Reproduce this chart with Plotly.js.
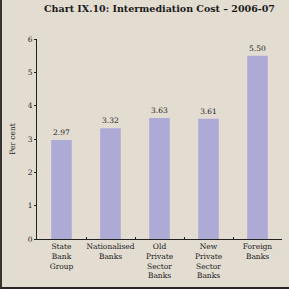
<!DOCTYPE html>
<html>
<head>
<meta charset="utf-8">
<script src="https://cdn.plot.ly/plotly-3.0.1.min.js"></script>
<style>
html,body{margin:0;padding:0;background:#e3dcd1;}
#wrap{width:287px;height:287px;border-left:2px solid #3a3430;border-bottom:2px solid #2a2522;background:#e3dcd1;}
#chart{width:287px;height:287px;}
</style>
</head>
<body>
<div id="wrap"><div id="chart"></div></div>
<script>
const categories = ["State<br>Bank<br>Group", "Nationalised<br>Banks", "Old<br>Private<br>Sector<br>Banks", "New<br>Private<br>Sector<br>Banks", "Foreign<br>Banks"];
const values = [2.97, 3.32, 3.63, 3.61, 5.50];
const yTicks = [0, 1, 2, 3, 4, 5, 6];

const serif = "DejaVu Serif, Liberation Serif, serif";
const trace = {
  type: "bar",
  x: categories,
  y: values,
  marker: {color: "#aeaad6"},
  text: values.map(v => v.toFixed(2)),
  textposition: "outside",
  textfont: {family: serif, size: 7.5, color: "#1a1a1a"},
  cliponaxis: false,
  hoverinfo: "none"
};
const layout = {
  width: 287, height: 287,
  margin: {l: 35, r: 7, t: 39, b: 48},
  paper_bgcolor: "#e3dcd1",
  plot_bgcolor: "#e3dcd1",
  bargap: 0.58,
  showlegend: false,
  title: {text: "<b>Chart IX.10: Intermediation Cost – 2006-07</b>", x: 0.5, xref: "paper", y: 0.98, yanchor: "top",
          font: {family: serif, size: 9.5, color: "#1a1a1a"}},
  xaxis: {
    type: "category",
    showline: true, linecolor: "#222", linewidth: 1,
    ticks: "inside", ticklen: 2, tickcolor: "#222", tickson: "boundaries",
    tickangle: 0,
    tickfont: {family: serif, size: 7.5, color: "#1a1a1a"},
    showgrid: false, zeroline: false, fixedrange: true
  },
  yaxis: {
    range: [0, 6],
    tickvals: yTicks,
    showline: true, linecolor: "#222", linewidth: 1,
    ticks: "outside", ticklen: 2, tickcolor: "#222",
    tickfont: {family: serif, size: 7.5, color: "#1a1a1a"},
    showgrid: false, zeroline: false,
    title: {text: "Per cent", font: {family: serif, size: 7.5, color: "#1a1a1a"}, standoff: 11}
  }
};
Plotly.newPlot("chart", [trace], layout, {displayModeBar: false, staticPlot: true});
</script>
</body>
</html>
